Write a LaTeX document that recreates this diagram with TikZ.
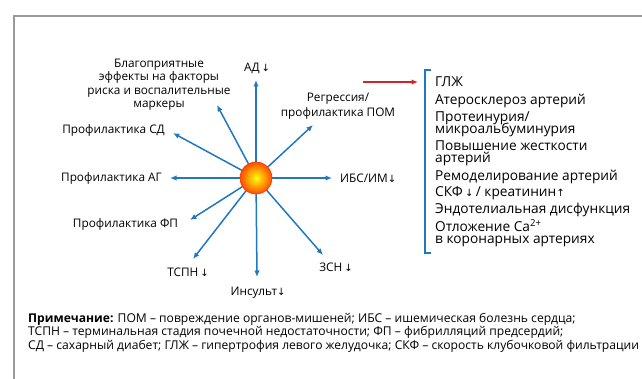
\documentclass[tikz,border=0pt]{standalone}
\usepackage{fontspec}
\setmainfont{Open Sans}
\newfontfamily\symfont{DejaVu Sans}
\usetikzlibrary{arrows.meta}
\definecolor{ablue}{HTML}{1F78C1}
\definecolor{ared}{HTML}{D2232A}
\definecolor{frame}{HTML}{9A9A9A}
\newcommand{\dnar}{{\symfont\fontsize{10}{10}\selectfont ↓}}
\newcommand{\uparr}{{\symfont\fontsize{10}{10}\selectfont ↑}}
\begin{document}
\begin{tikzpicture}[x=1pt,y=-1pt,
  ray/.style={draw=ablue,line width=1.5pt,-{Latex[length=6.5pt,width=5.5pt]}},
  lbl/.style={font=\fontsize{11.8}{13.5}\selectfont,inner sep=0pt,align=center},
  itm/.style={font=\fontsize{13.7}{11.6}\selectfont,inner sep=0pt,anchor=base west},
  note/.style={font=\fontsize{12.1}{13.5}\selectfont,inner sep=0pt,anchor=west}]
\useasboundingbox (0,0) rectangle (642,379);
\draw[frame,line width=1.2pt] (642,16) -- (14,16) -- (14,379);
% center
\coordinate (c) at (256,178);
% tips
\coordinate (tUp) at (256,80);
\coordinate (tUR) at (313,125);
\coordinate (tR) at (332,178);
\coordinate (tDR) at (323,255);
\coordinate (tD) at (257,277);
\coordinate (tDL) at (193,259);
\coordinate (tLD) at (190,220);
\coordinate (tL) at (170,178);
\coordinate (tUL) at (173,133);
\coordinate (tUU) at (217,105);
\foreach \t in {tUp,tUR,tR,tDR,tD,tDL,tLD,tL,tUL,tUU} \draw[ray] (c) -- (\t);
\shade[inner color=yellow!95!white, outer color=orange!60!red] (c) circle (16);
\draw[orange!40!red, line width=0.6pt] (c) circle (16);
% labels
\node[lbl] (lUp) at (257,68) {АД\,\dnar};
\node[lbl,font=\fontsize{11.8}{15}\selectfont] (lUR) at (338,106) {Регрессия/\\профилактика ПОМ};
\node[lbl,anchor=west] (lR) at (340,178) {ИБС/ИМ\dnar};
\node[lbl] (lDR) at (336,267) {ЗСН\,\dnar};
\node[lbl] (lD) at (258,293) {Инсульт\dnar};
\node[lbl] (lDL) at (188,272) {ТСПН\,\dnar};
\node[lbl] (lLD) at (125.5,224) {Профилактика ФП};
\node[lbl,anchor=east] (lL) at (162,178) {Профилактика АГ};
\node[lbl,anchor=east] (lUL) at (165,130) {Профилактика СД};
\node[lbl] (lUU) at (159,84.5) {Благоприятные\\эффекты на факторы\\риска и воспалительные\\маркеры};
% red arrow and bracket
\coordinate (rA) at (363,82);
\coordinate (rB) at (418,82);
\draw[ared,line width=1.5pt,-{Latex[length=6.5pt,width=5.5pt]}] (rA) -- (rB);
\draw[ablue,line width=2pt] (431,70) -- (425,70) -- (425,253) -- (431,253);
\node[itm] (i1) at (435,86.7) {ГЛЖ};
\node[itm] (i2) at (435,104.3) {Атеросклероз артерий};
\node[itm] (i3a) at (435,121.7) {Протеинурия/};
\node[itm] (i3b) at (435,133.3) {микроальбуминурия};
\node[itm] (i4a) at (435,151) {Повышение жесткости};
\node[itm] (i4b) at (435,163) {артерий};
\node[itm] (i5) at (435,180.7) {Ремоделирование артерий};
\node[itm] (i6) at (435,196.7) {СКФ\,\dnar\,/ креатинин\uparr};
\node[itm] (i7) at (435,213.3) {Эндотелиальная дисфункция};
\node[itm] (i8a) at (435,231.7) {Отложение Ca\textsuperscript{2+}};
\node[itm] (i8b) at (435,243.3) {в коронарных артериях};
% note
\node[note] (n1) at (28,319) {\textbf{Примечание:} ПОМ – повреждение органов-мишеней; ИБС – ишемическая болезнь сердца;};
\node[note] (n2) at (28,332.5) {ТСПН – терминальная стадия почечной недостаточности; ФП – фибрилляций предсердий;};
\node[note] (n3) at (28,346) {СД – сахарный диабет; ГЛЖ – гипертрофия левого желудочка; СКФ – скорость клубочковой фильтрации};
\end{tikzpicture}
\end{document}
